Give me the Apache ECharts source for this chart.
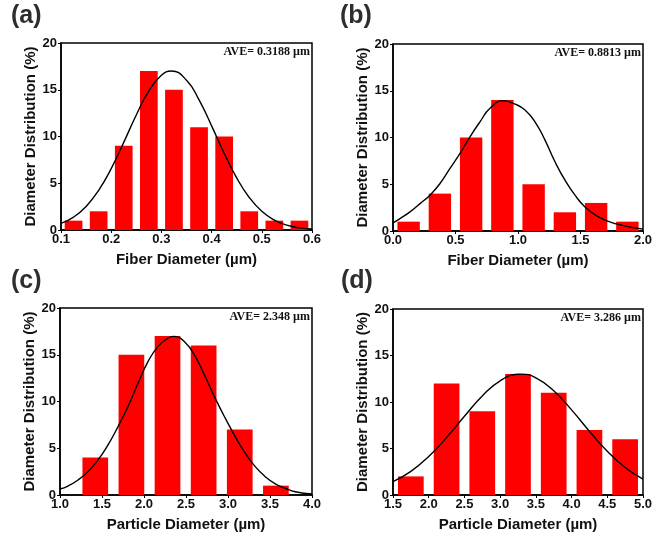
<!DOCTYPE html>
<html>
<head>
<meta charset="utf-8">
<script src="https://cdn.jsdelivr.net/npm/echarts@6/dist/echarts.min.js"></script>
<style>html,body{margin:0;padding:0;background:#fff;}#c{width:657px;height:535px;}</style>
</head>
<body>
<div id="c"></div>
<script>
// ---- data ----
const panelLabels = ['(a)', '(b)', '(c)', '(d)'];
const aveLabels = ['AVE= 0.3188 µm', 'AVE= 0.8813 µm', 'AVE= 2.348 µm', 'AVE= 3.286 µm'];
const xNames = ['Fiber Diameter (µm)', 'Fiber Diameter (µm)', 'Particle Diameter (µm)', 'Particle Diameter (µm)'];
const yName = 'Diameter Distribution (%)';

const aBins = [0.125, 0.175, 0.225, 0.275, 0.325, 0.375, 0.425, 0.475, 0.525, 0.575];
const aCounts = [1, 2, 9, 17, 15, 11, 10, 2, 1, 1];
const aFitX = [0.1, 0.125, 0.15, 0.175, 0.2, 0.225, 0.25, 0.275, 0.3, 0.32, 0.35, 0.375, 0.4, 0.425, 0.45, 0.475, 0.5, 0.525, 0.55, 0.575, 0.6];
const aFitY = [0.70, 1.38, 2.52, 4.24, 6.57, 9.37, 12.30, 14.87, 16.56, 17.0, 16.02, 13.92, 11.14, 8.21, 5.57, 3.48, 2.00, 1.06, 0.52, 0.23, 0.10];

const bBins = [0.125, 0.375, 0.625, 0.875, 1.125, 1.375, 1.625, 1.875];
const bCounts = [1, 4, 10, 14, 5, 2, 3, 1];
const bFitX = [0, 0.056, 0.136, 0.216, 0.296, 0.376, 0.456, 0.536, 0.616, 0.696, 0.776, 0.883, 0.976, 1.056, 1.136, 1.216, 1.296, 1.376, 1.456, 1.536, 1.643, 1.776, 2.0];
const bFitY = [0.86, 1.33, 2.04, 2.93, 3.83, 5.08, 6.69, 8.30, 10.08, 11.68, 13.12, 13.93, 13.58, 12.94, 11.68, 9.72, 7.40, 5.43, 3.83, 2.57, 1.50, 0.79, 0.20];

const cBins = [1.42, 1.85, 2.28, 2.71, 3.14, 3.57];
const cCounts = [4, 15, 17, 16, 7, 1];
const cFitX = [1.0, 1.095, 1.215, 1.334, 1.453, 1.572, 1.691, 1.810, 1.930, 2.049, 2.168, 2.287, 2.347, 2.490, 2.609, 2.728, 2.847, 2.967, 3.086, 3.205, 3.324, 3.443, 3.563, 3.682, 3.801, 4.0];
const cFitY = [0.64, 0.96, 1.61, 2.50, 3.75, 5.36, 7.32, 9.46, 11.97, 14.29, 15.90, 16.79, 16.97, 16.32, 14.82, 12.68, 10.36, 8.22, 6.25, 4.47, 3.03, 1.96, 1.18, 0.72, 0.35, 0.10];

const dBins = [1.75, 2.25, 2.75, 3.25, 3.75, 4.25, 4.75];
const dCounts = [2, 12, 9, 13, 11, 7, 6];
const dFitX = [1.5, 1.75, 2.0, 2.25, 2.5, 2.75, 3.0, 3.25, 3.29, 3.5, 3.75, 4.0, 4.25, 4.5, 4.75, 5.0];
const dFitY = [1.43, 2.54, 4.14, 6.18, 8.47, 10.65, 12.28, 12.99, 13.0, 12.60, 11.21, 9.15, 6.85, 4.70, 2.96, 1.71];

const xMin = [0.1, 0.0, 1.0, 1.5];
const xMax = [0.6, 2.0, 4.0, 5.0];
const xStep = [0.1, 0.5, 0.5, 0.5];
const yTicks = [0, 5, 10, 15, 20];

const bins = [aBins, bBins, cBins, dBins];
const counts = [aCounts, bCounts, cCounts, dCounts];
const fitX = [aFitX, bFitX, cFitX, dFitX];
const fitY = [aFitY, bFitY, cFitY, dFitY];

// ---- layout ----
const grids = [
  {left: 61, top: 43, width: 251, height: 187},
  {left: 393, top: 44, width: 250, height: 187},
  {left: 60, top: 308, width: 252, height: 187},
  {left: 393, top: 309, width: 250, height: 186}
];
const barWidths = [17.7, 22.4, 25.7, 25.7];
const labelPos = [[11, 4], [340, 4], [11, 269], [341, 269]];
const FONT = '"Liberation Sans", Arial, sans-serif';

const chart = echarts.init(document.getElementById('c'), null, {renderer: 'canvas'});
const option = {
  backgroundColor: '#fff',
  animation: false,
  grid: grids.map(g => Object.assign({show: true, borderColor: '#000', borderWidth: 1.5, containLabel: false}, g)),
  xAxis: grids.map((g, i) => ({
    type: 'value', gridIndex: i, min: xMin[i], max: xMax[i], interval: xStep[i],
    name: xNames[i], nameLocation: 'middle', nameGap: 22,
    nameTextStyle: {fontFamily: FONT, fontWeight: 'bold', fontSize: 15, color: '#111'},
    axisLine: {show: true, lineStyle: {color: '#000', width: 1.5}},
    axisTick: {show: true, inside: false, length: 3, lineStyle: {color: '#000', width: 1}},
    axisLabel: {fontFamily: FONT, fontWeight: 'bold', fontSize: 13, color: '#111', margin: 3,
      formatter: v => v.toFixed(1)},
    splitLine: {show: false}
  })),
  yAxis: grids.map((g, i) => ({
    type: 'value', gridIndex: i, min: 0, max: 20, interval: 5,
    name: yName, nameLocation: 'middle', nameGap: 19,
    nameTextStyle: {fontFamily: FONT, fontWeight: 'bold', fontSize: 15, color: '#111'},
    axisLine: {show: true, lineStyle: {color: '#000', width: 1.5}},
    axisTick: {show: true, inside: false, length: 3, lineStyle: {color: '#000', width: 1}},
    axisLabel: {fontFamily: FONT, fontWeight: 'bold', fontSize: 13, color: '#111', margin: 4,
      formatter: v => yTicks.indexOf(v) >= 0 ? String(v) : ''},
    splitLine: {show: false}
  })),
  series: [],
  graphic: []
};

for (let i = 0; i < 4; i++) {
  option.series.push({
    type: 'bar', xAxisIndex: i, yAxisIndex: i,
    barWidth: barWidths[i],
    itemStyle: {color: '#ff0000'},
    data: bins[i].map((x, k) => [x, counts[i][k]]),
    z: 2
  });
  option.series.push({
    type: 'line', xAxisIndex: i, yAxisIndex: i,
    smooth: 0.5, showSymbol: false, symbol: 'none', clip: true,
    lineStyle: {color: '#000', width: 1.4},
    data: fitX[i].map((x, k) => [x, fitY[i][k]]),
    z: 3
  });
  const g = grids[i];
  option.graphic.push({
    type: 'text', left: labelPos[i][0], top: labelPos[i][1],
    style: {text: panelLabels[i], font: 'bold 25px ' + FONT, fill: '#2e2e2e'}
  });
  option.graphic.push({
    type: 'text', x: g.left + g.width - 2, y: g.top + 9,
    style: {text: aveLabels[i], font: 'bold 12px "Liberation Serif", "Times New Roman", serif',
      fill: '#111', textAlign: 'right', textVerticalAlign: 'middle'}
  });
}

chart.setOption(option);
</script>
</body>
</html>
